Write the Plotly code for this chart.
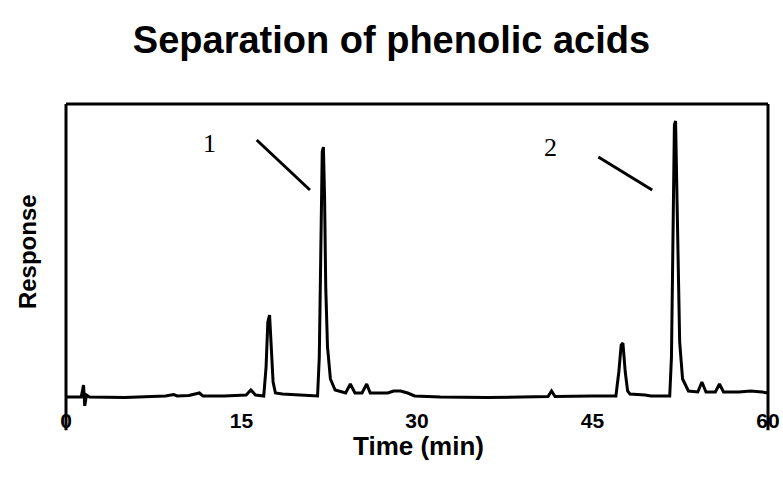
import plotly.graph_objects as go

# Chromatogram trace (time in min, response in arbitrary units)
time = [0, 1.3, 1.5, 1.6, 1.75, 2.0, 5.0, 7.0, 8.5, 9.2, 9.5, 10.5, 11.4, 11.7, 13.5,
        15.4, 15.8, 16.2, 16.9, 17.1, 17.25, 17.4, 17.55, 17.7, 17.9, 18.5, 20.0, 21.5,
        21.65, 21.8, 21.9, 22.0, 22.1, 22.2, 22.35, 22.6, 23.0, 23.9, 24.3, 24.7, 25.3,
        25.7, 26.0, 27.5, 28.0, 28.6, 29.2, 29.8, 32.0, 36.0, 40.0, 41.2, 41.5, 41.8,
        45.0, 47.0, 47.25, 47.45, 47.6, 47.8, 48.0, 48.2, 49.5, 50.0, 51.0, 51.6,
        51.75, 51.9, 52.0, 52.1, 52.2, 52.3, 52.45, 52.7, 53.2, 54.0, 54.35, 54.7,
        55.5, 55.85, 56.2, 57.5, 58.5, 59.5, 60]
response = [0, 0, 12, -9, 2, 0, -0.5, 0, 1, 2.5, 1, 1.5, 4, 1, 1,
            2, 7, 2, 1, 30, 75, 82, 50, 15, 4, 3, 2, 1,
            40, 170, 245, 250, 200, 110, 50, 18, 7, 4, 13, 4, 4,
            13, 4, 4, 6, 6, 4, 1, 0, -0.5, 0, 0.5, 6, 0.5,
            1, 1, 25, 52, 54, 25, 6, 3, 2, 1, 1, 1,
            40, 200, 272, 276, 220, 130, 55, 18, 6, 5, 15, 5,
            5, 13, 5, 5, 6, 5, 4]

tick_vals = [0, 15, 30, 45, 60]
tick_text = ["0", "15", "30", "45", "60"]

peak_labels = ["1", "2"]
peak_label_pos = [(12.3, 254), (41.4, 250)]
peak_lines = [((16.3, 257), (20.85, 207)), ((45.5, 240), (50.1, 207))]

fig = go.Figure()
fig.add_trace(go.Scatter(x=time, y=response, mode="lines",
                         line=dict(color="black", width=3), hoverinfo="skip",
                         showlegend=False))

for txt, (px, py) in zip(peak_labels, peak_label_pos):
    fig.add_annotation(x=px, y=py, text=txt, showarrow=False,
                       font=dict(family="Liberation Serif", size=26, color="black"))
for (a, b) in peak_lines:
    fig.add_shape(type="line", x0=a[0], y0=a[1], x1=b[0], y1=b[1],
                  xref="x", yref="y", line=dict(color="black", width=3))

# frame: left, top, right
frame = dict(color="black", width=3)
fig.add_shape(type="line", xref="paper", yref="paper", x0=0, x1=0, y0=-0.08, y1=1, line=frame)
fig.add_shape(type="line", xref="paper", yref="paper", x0=0, x1=1, y0=1, y1=1, line=frame)
fig.add_shape(type="line", xref="paper", yref="paper", x0=1, x1=1, y0=-0.08, y1=1, line=frame)

fig.add_annotation(xref="paper", yref="paper", x=-0.054, y=0.51, xanchor="center",
                   yanchor="middle", text="<b>Response</b>",
                   textangle=-90, showarrow=False,
                   font=dict(family="Liberation Sans", size=24, color="black"))
fig.add_annotation(xref="paper", yref="paper", x=0.502, y=-0.133, xanchor="center",
                   yanchor="middle", text="<b>Time (min)</b>", showarrow=False,
                   font=dict(family="Liberation Sans", size=26, color="black"))

fig.update_layout(
    width=783, height=489,
    margin=dict(l=66, r=15, t=104, b=83, autoexpand=False),
    paper_bgcolor="white", plot_bgcolor="white",
    title=dict(text="<b>Separation of phenolic acids</b>", x=0.5, xanchor="center",
               y=1 - 40 / 489, yanchor="middle", yref="container",
               font=dict(family="Liberation Sans", size=38, color="black")),
    xaxis=dict(range=[0, 60], tickvals=tick_vals, ticktext=tick_text, showgrid=False,
               zeroline=False, showline=False, ticks="", automargin=False,
               tickfont=dict(family="Liberation Sans", size=21, color="black", weight="bold")),
    yaxis=dict(range=[-9, 293], showgrid=False, zeroline=False, showline=False,
               showticklabels=False, ticks="", automargin=False),
)

fig.write_html("out.html")
